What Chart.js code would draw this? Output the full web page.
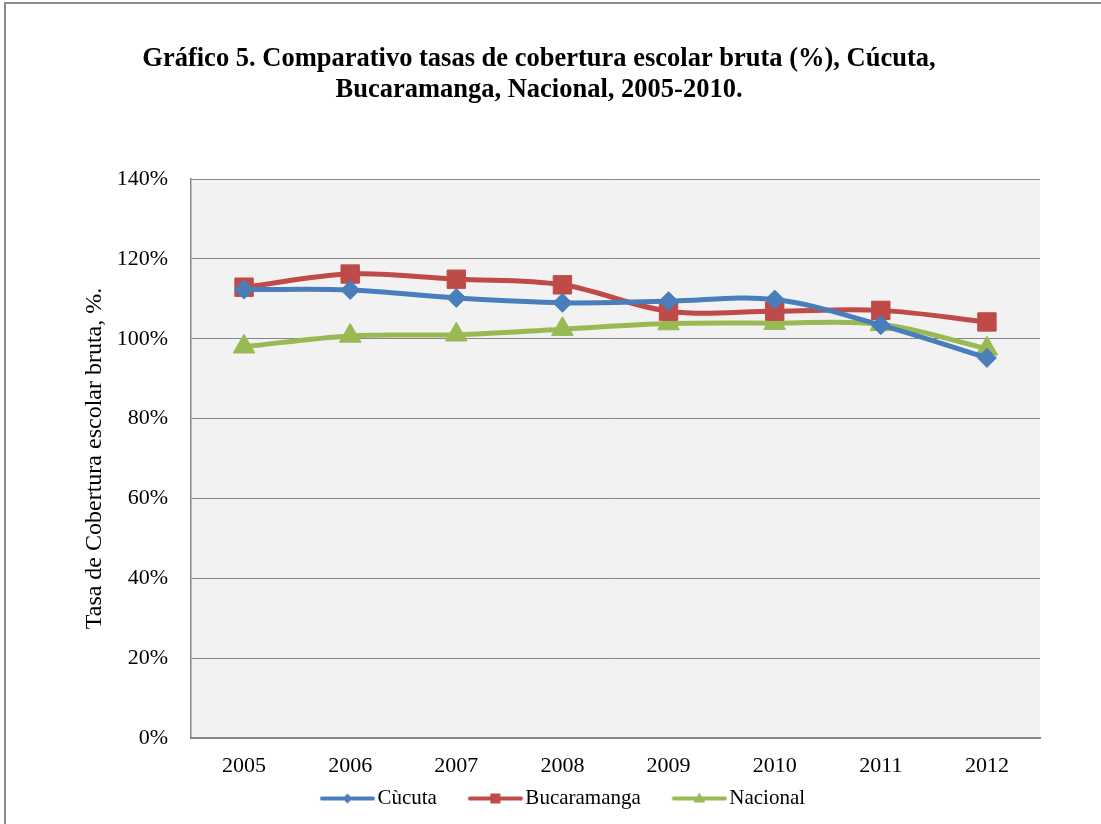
<!DOCTYPE html>
<html>
<head>
<meta charset="utf-8">
<script src="https://cdn.jsdelivr.net/npm/chart.js@4.4.1/dist/chart.umd.min.js"></script>
<style>
  body { margin: 0; background: #fff; overflow: hidden; }
  #frame { position: absolute; left: 4px; top: 2px; width: 1200px; height: 1000px; border: 2px solid #8c8c8c; }
  #growth-chart { position: absolute; left: 0; top: 0; }
</style>
</head>
<body>
<div id="frame"></div>
<canvas id="growth-chart" width="1101" height="824"></canvas>
<script>
var years = ['2005', '2006', '2007', '2008', '2009', '2010', '2011', '2012'];
var cucuta = [112.3, 112.2, 110.2, 109.0, 109.4, 109.8, 103.4, 95.2];
var bucaramanga = [112.9, 116.2, 114.9, 113.5, 106.9, 106.9, 107.1, 104.2];
var nacional = [98.0, 100.7, 101.0, 102.4, 103.8, 103.9, 103.6, 97.5];
var yTicks = [0, 20, 40, 60, 80, 100, 120, 140];

var SERIES_COLORS = { cucuta: '#4a7ebb', bucaramanga: '#be4b48', nacional: '#98b954' };
var SERIF = "'Liberation Serif', 'Times New Roman', serif";
var GRID = '#868686';

// small canvases used as legend symbols: a line with the marker in the middle
function legendSymbol(color, shape) {
  var c = document.createElement('canvas');
  c.width = 86; c.height = 16;
  var g = c.getContext('2d');
  g.strokeStyle = color; g.fillStyle = color;
  g.lineWidth = 4; g.lineCap = 'round';
  g.beginPath(); g.moveTo(33, 8); g.lineTo(84, 8); g.stroke();
  var cx = 58.5, cy = 8;
  g.beginPath();
  if (shape === 'diamond') {
    g.moveTo(cx, cy - 5); g.lineTo(cx + 5, cy); g.lineTo(cx, cy + 5); g.lineTo(cx - 5, cy);
  } else if (shape === 'square') {
    g.rect(cx - 5, cy - 5, 10, 10);
  } else {
    g.moveTo(cx, cy - 6); g.lineTo(cx + 6, cy + 4); g.lineTo(cx - 6, cy + 4);
  }
  g.closePath(); g.fill();
  return c;
}

var legendImgs = [
  legendSymbol(SERIES_COLORS.cucuta, 'diamond'),
  legendSymbol(SERIES_COLORS.bucaramanga, 'square'),
  legendSymbol(SERIES_COLORS.nacional, 'triangle')
];

var plotBackground = {
  id: 'plotBackground',
  beforeDraw: function(chart) {
    var a = chart.chartArea, ctx = chart.ctx;
    ctx.save();
    ctx.fillStyle = '#f2f2f2';
    ctx.fillRect(a.left, a.top, a.right - a.left, a.bottom - a.top);
    ctx.restore();
  }
};

// the legend sits a little right of the title in the original
var legendShift = {
  id: 'legendShift',
  afterLayout: function(chart) {
    if (!chart.legend) return;
    chart.legend.left += 12;
    chart.legend.right += 12;
  }
};

function lineDataset(label, data, color, style, radius) {
  return {
    label: label,
    data: data,
    borderColor: color,
    backgroundColor: color,
    borderWidth: 5,
    pointStyle: style,
    pointRadius: radius,
    pointBorderWidth: 1,
    pointHoverRadius: radius,
    tension: 0.35
  };
}

new Chart(document.getElementById('growth-chart'), {
  type: 'line',
  data: {
    labels: years,
    datasets: [
      lineDataset('Cùcuta', cucuta, SERIES_COLORS.cucuta, 'rectRot', 9.5),
      lineDataset('Bucaramanga', bucaramanga, SERIES_COLORS.bucaramanga, 'rect', 13),
      lineDataset('Nacional', nacional, SERIES_COLORS.nacional, 'triangle', 12.5)
    ]
  },
  plugins: [plotBackground, legendShift],
  options: {
    responsive: false,
    animation: false,
    events: [],
    layout: { padding: { left: 38, right: 61, top: 0, bottom: 5 } },
    plugins: {
      title: {
        display: true,
        text: ['Gráfico 5. Comparativo tasas de cobertura escolar bruta (%), Cúcuta,',
               'Bucaramanga, Nacional, 2005-2010.'],
        color: '#000',
        font: { family: SERIF, size: 26.5, weight: 'bold', lineHeight: 1.17 },
        padding: { top: 44, bottom: 73 }
      },
      legend: {
        position: 'bottom',
        labels: {
          color: '#000',
          font: { family: SERIF, size: 21 },
          usePointStyle: true,
          pointStyleWidth: 70,
          padding: 8,
          generateLabels: function(chart) {
            var items = Chart.defaults.plugins.legend.labels.generateLabels(chart);
            items.forEach(function(item, i) { item.pointStyle = legendImgs[i]; });
            return items;
          }
        }
      },
      tooltip: { enabled: false }
    },
    scales: {
      x: {
        offset: true,
        afterFit: function(scale) { scale.height = 42; },
        grid: { display: false, drawTicks: false },
        border: { display: true, color: GRID, width: 2 },
        ticks: { color: '#000', font: { family: SERIF, size: 22 }, padding: 15, maxRotation: 0 }
      },
      y: {
        min: 0,
        max: 140,
        afterFit: function(scale) { scale.width = 153; },
        afterBuildTicks: function(scale) {
          scale.ticks = yTicks.map(function(v) { return { value: v }; });
        },
        grid: { color: GRID, lineWidth: 1, drawTicks: false },
        border: { display: true, color: GRID, width: 1.5 },
        ticks: {
          color: '#000',
          font: { family: SERIF, size: 22 },
          padding: 23,
          callback: function(v) { return v + '%'; }
        },
        title: {
          display: true,
          text: 'Tasa de Cobertura escolar bruta, %.',
          color: '#000',
          font: { family: SERIF, size: 24 },
          padding: { top: 42, bottom: 0 }
        }
      }
    }
  }
});
</script>
</body>
</html>
